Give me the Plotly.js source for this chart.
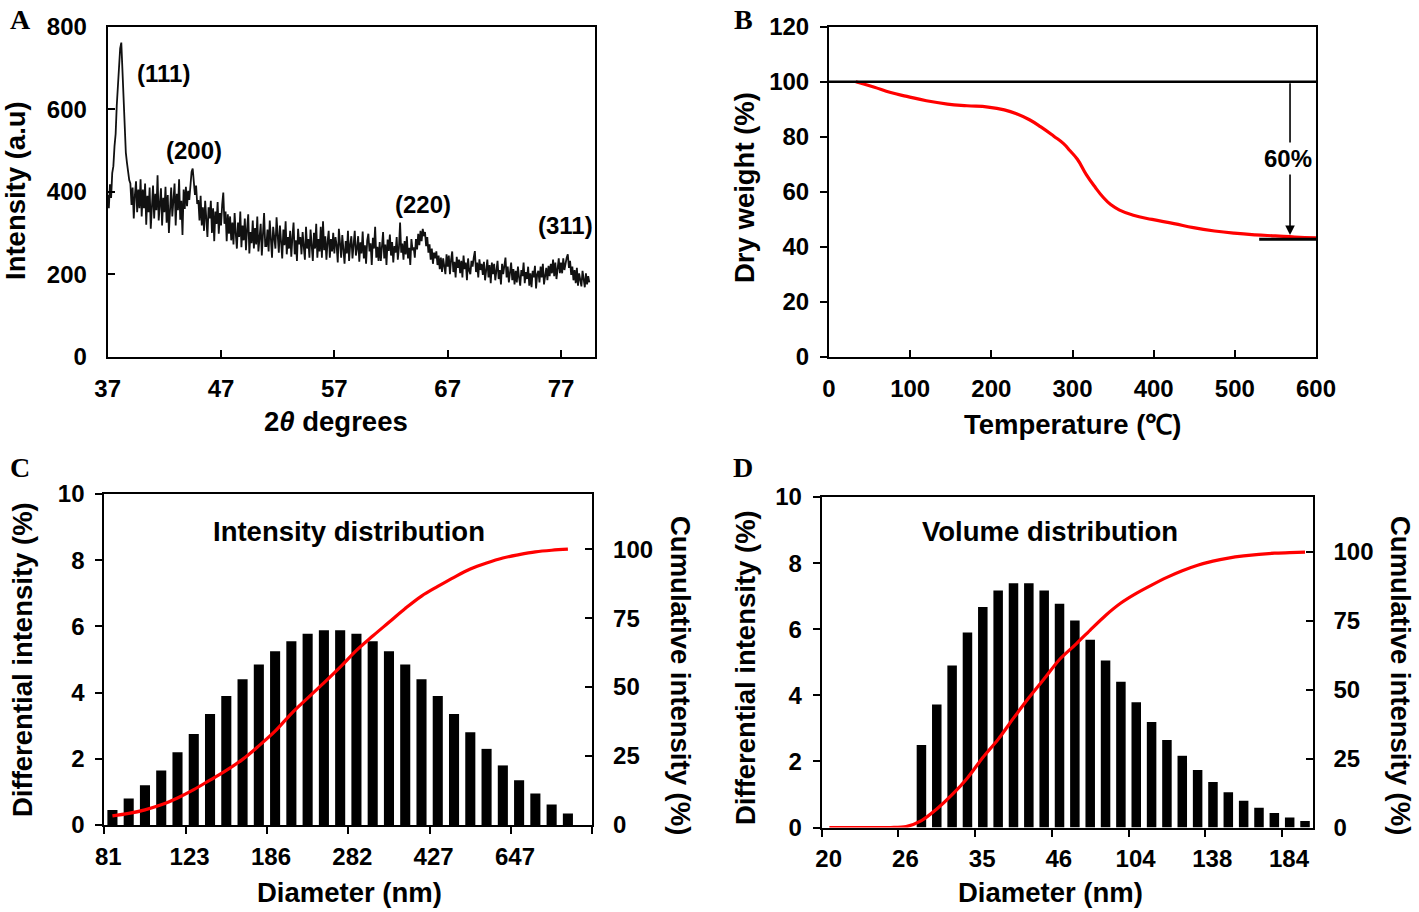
<!DOCTYPE html>
<html><head><meta charset="utf-8">
<script src="https://cdn.plot.ly/plotly-3.0.1.min.js"></script>
<style>html,body{margin:0;padding:0;background:#fff}#chart{width:1419px;height:912px}</style>
</head><body><div id="chart"></div>
<script>
// ---------- Panel A: XRD pattern ----------
const xrdStart = 37.0;
const xrdStep = 0.1;
const xrdIntensity = [
392,360,418,385,445,462,510,540,610,668,
705,748,762,690,600,545,495,470,440,428,
420,368,410,335,392,425,350,405,360,430,
340,405,360,420,320,390,350,410,310,378,
415,335,395,355,440,330,370,408,318,385,
350,412,325,392,300,382,410,340,372,420,
318,395,355,430,332,378,295,405,358,412,
365,402,380,425,448,456,420,392,415,370,
380,330,390,318,362,305,378,335,290,362,
335,378,300,360,280,352,322,375,298,348,
318,368,398,322,352,280,345,298,340,282,
325,272,348,298,262,325,290,352,265,318,
282,335,258,310,345,250,302,275,330,262,
312,272,340,255,300,322,245,288,348,268,
268,308,255,330,285,240,315,292,262,338,
298,252,318,278,238,308,270,328,248,290,
262,305,242,290,325,248,282,232,310,272,
290,248,302,268,235,315,262,285,240,308,
268,232,300,262,322,240,285,255,315,240,
328,258,292,235,278,305,240,285,255,300,
250,290,270,228,310,262,240,295,268,225,
280,250,305,232,272,292,238,268,305,245,
262,292,230,277,250,303,238,270,225,282,
298,255,275,222,288,262,315,240,266,232,
278,232,262,302,238,272,222,284,256,296,
245,278,228,268,252,290,235,264,325,252,
274,235,280,248,292,238,264,222,285,258,
265,240,285,260,298,270,305,280,310,292,
302,268,290,252,272,235,262,225,252,238,
255,222,245,212,240,205,238,220,200,248,
218,245,200,235,255,205,230,192,242,215,
235,202,232,192,245,212,228,185,238,208,
200,232,218,240,256,205,228,192,236,210,
225,198,230,185,215,235,192,222,178,228,
200,225,185,215,232,188,210,175,225,200,
215,240,192,218,180,206,228,185,212,175,
208,180,218,192,172,210,195,228,178,205,
188,218,172,202,168,208,192,220,165,200,
208,180,218,192,225,175,202,215,185,220,
195,225,202,235,195,228,188,218,238,202,
228,202,238,210,230,240,248,215,232,198,
218,185,210,178,215,172,202,185,170,208,
190,168,202,175,195,180
];
const xrdTicks = [37, 47, 57, 67, 77];
const peakLabels = ['(111)', '(200)', '(220)', '(311)'];
const peakLabelX = [41.9, 44.6, 64.8, 77.4];
const peakLabelY = [686, 501, 370, 317];

// ---------- Panel B: TGA ----------
const tgaTemp = [33,55,76,96,120,146,170,196,216,231,247,261,277,289,297,306,317,328,338,347,358,375,398,425,449,475,499,525,550,574,600];
const tgaWeight = [100,98.1,96.1,94.7,93.1,91.9,91.3,90.8,89.8,88.4,86.2,83.6,80.2,77.5,74.9,71.8,66.2,61.6,57.9,55.3,53.3,51.4,49.9,48.4,46.9,45.7,44.9,44.3,43.9,43.5,43.2];
const tgaInitial = 100;
const tgaResidue = 42.7;
const tgaLossText = '60%';

// ---------- Panel C: Intensity distribution ----------
const intBins = [0,1,2,3,4,5,6,7,8,9,10,11,12,13,14,15,16,17,18,19,20,21,22,23,24,25,26,27,28];
const intDiff = [0.45,0.8,1.2,1.65,2.2,2.75,3.35,3.9,4.4,4.85,5.25,5.55,5.78,5.88,5.88,5.78,5.55,5.25,4.85,4.4,3.9,3.35,2.8,2.3,1.8,1.35,0.95,0.62,0.35];
const intCum = [3.3,4.2,5.5,7.3,9.8,12.8,16.3,19.8,23.8,28.7,34,40.4,46,51.5,57.2,63.3,68.5,73.5,78.5,83,86.5,89.8,92.8,95,96.8,98,99,99.6,100];
const intTickLabels = ['81','123','186','282','427','647',''];

// ---------- Panel D: Volume distribution ----------
const volBins = [6,7,8,9,10,11,12,13,14,15,16,17,18,19,20,21,22,23,24,25,26,27,28,29,30,31];
const volDiff = [2.5,3.72,4.9,5.9,6.67,7.17,7.39,7.39,7.17,6.77,6.26,5.68,5.05,4.41,3.79,3.19,2.65,2.17,1.74,1.38,1.07,0.81,0.6,0.44,0.3,0.2];
const volCumBins = [0,1,2,3,4,5,6,7,8,9,10,11,12,13,14,15,16,17,18,19,20,21,22,23,24,25,26,27,28,29,30,31];
const volCum = [0,0,0,0,0,0.3,2.5,6.7,11.9,18,25.4,32,39.7,47.1,54,61,66.2,71.7,77,81.5,85,88,90.8,93.2,95.2,96.7,97.8,98.6,99.2,99.6,99.8,100];
const volTickLabels = ['20','26','35','46','104','138','184'];

// ---------- helpers ----------
const W = 1419, H = 912;
const px = v => v / W;
const py = v => 1 - v / H;
const FONT = 'Arial, "Liberation Sans", sans-serif';
const tickFont = {family: FONT, size: 24, color: '#000', weight: 700};
const base = {showline: true, linecolor: '#000', linewidth: 2, showgrid: false, zeroline: false,
  tickcolor: '#000', tickwidth: 2, ticklen: 7, tickfont: tickFont, fixedrange: true};
const binTicks = labels => labels.map((_, i) => i * 5 - 0.5);

const traces = [
  {x0: xrdStart, dx: xrdStep, y: xrdIntensity, type: 'scatter', mode: 'lines',
   line: {color: '#111', width: 1.8}, xaxis: 'x', yaxis: 'y'},
  {x: tgaTemp, y: tgaWeight, type: 'scatter', mode: 'lines',
   line: {color: '#ff0000', width: 3.2, shape: 'spline', smoothing: 1.3}, xaxis: 'x2', yaxis: 'y2'},
  {x: intBins, y: intDiff, type: 'bar', marker: {color: '#000'}, xaxis: 'x3', yaxis: 'y3'},
  {x: intBins, y: intCum, type: 'scatter', mode: 'lines',
   line: {color: '#ff0000', width: 3.2, shape: 'spline', smoothing: 1}, xaxis: 'x3', yaxis: 'y4'},
  {x: volBins, y: volDiff, type: 'bar', marker: {color: '#000'}, xaxis: 'x4', yaxis: 'y5'},
  {x: volCumBins, y: volCum, type: 'scatter', mode: 'lines',
   line: {color: '#ff0000', width: 3.2, shape: 'spline', smoothing: 0.8}, xaxis: 'x4', yaxis: 'y6'}
];

const A = {x: [107.7, 595], y: [26.9, 356.5]};
const B = {x: [829, 1316], y: [26.9, 356.5]};
const C = {x: [104.3, 592.3], y: [494, 825]};
const D = {x: [821.7, 1312.7], y: [497, 827.5]};
const dom = r => [px(r[0]), px(r[1])];
const domY = r => [py(r[1]), py(r[0])];

const layout = {
  width: W, height: H, margin: {l: 0, r: 0, t: 0, b: 0},
  paper_bgcolor: '#fff', plot_bgcolor: '#fff', showlegend: false, bargap: 0.38,
  font: {family: FONT, color: '#000'},
  xaxis: Object.assign({}, base, {domain: dom(A.x), range: [37, 80], tickvals: xrdTicks,
    ticks: 'inside', mirror: true, anchor: 'y', ticklabelstandoff: 10}),
  yaxis: Object.assign({}, base, {domain: domY(A.y), range: [0, 800], dtick: 200,
    ticks: 'inside', mirror: true, anchor: 'x', ticklabelstandoff: 14}),
  xaxis2: Object.assign({}, base, {domain: dom(B.x), range: [0, 600], dtick: 100,
    ticks: 'inside', mirror: true, anchor: 'y2', ticklabelstandoff: 10}),
  yaxis2: Object.assign({}, base, {domain: domY(B.y), range: [0, 120], dtick: 20,
    ticks: 'outside', mirror: true, anchor: 'x2', ticklabelstandoff: 6}),
  xaxis3: Object.assign({}, base, {domain: dom(C.x), range: [-0.5, 29.5], tickvals: binTicks(intTickLabels),
    ticktext: intTickLabels, ticks: 'outside', mirror: true, anchor: 'y3', ticklabelshift: 4, ticklabelstandoff: 2}),
  yaxis3: Object.assign({}, base, {domain: domY(C.y), range: [0, 10], dtick: 2,
    ticks: 'outside', anchor: 'x3', ticklabelstandoff: 6}),
  yaxis4: Object.assign({}, base, {range: [0, 120], tickvals: [0, 25, 50, 75, 100],
    ticks: 'inside', side: 'right', overlaying: 'y3', anchor: 'x3', ticklabelstandoff: 14}),
  xaxis4: Object.assign({}, base, {domain: dom(D.x), range: [-0.5, 31.5], tickvals: binTicks(volTickLabels),
    ticktext: volTickLabels, ticks: 'outside', mirror: true, anchor: 'y5', ticklabelshift: 7, ticklabelstandoff: 2}),
  yaxis5: Object.assign({}, base, {domain: domY(D.y), range: [0, 10], dtick: 2,
    ticks: 'outside', anchor: 'x4', ticklabelstandoff: 6}),
  yaxis6: Object.assign({}, base, {range: [0, 120], tickvals: [0, 25, 50, 75, 100],
    ticks: 'inside', side: 'right', overlaying: 'y5', anchor: 'x4', ticklabelstandoff: 14}),
  shapes: [
    {type: 'line', xref: 'x2', yref: 'y2', x0: 0, x1: 600, y0: tgaInitial, y1: tgaInitial,
     line: {color: '#000', width: 2.5}},
    {type: 'line', xref: 'x2', yref: 'y2', x0: 530, x1: 600, y0: tgaResidue, y1: tgaResidue,
     line: {color: '#000', width: 3}}
  ],
  annotations: []
};

const titleFont = {family: FONT, size: 27.5, color: '#000', weight: 700};
function paperText(text, x, y, opts) {
  layout.annotations.push(Object.assign({text: text, xref: 'paper', yref: 'paper', x: px(x), y: py(y),
    xanchor: 'center', yanchor: 'middle', showarrow: false, font: titleFont}, opts || {}));
}
// panel letters
const letterFont = {family: '"Liberation Serif", "Times New Roman", serif', size: 28, color: '#000', weight: 700};
paperText('A', 20, 20, {font: letterFont});
paperText('B', 743, 20, {font: letterFont});
paperText('C', 20, 467, {font: letterFont});
paperText('D', 743, 467, {font: letterFont});
// axis titles
paperText('Intensity (a.u)', 16, 191, {textangle: -90});
paperText('2<i>θ</i> degrees', 336, 421);
paperText('Dry weight (%)', 745, 188, {textangle: -90});
paperText('Temperature (℃)', 1073, 424);
paperText('Differential intensity (%)', 22, 660, {textangle: -90});
paperText('Cumulative intensity (%)', 681, 675, {textangle: 90});
paperText('Diameter (nm)', 349, 892);
paperText('Differential intensity (%)', 745, 668, {textangle: -90});
paperText('Cumulative intensity (%)', 1401, 675, {textangle: 90});
paperText('Diameter (nm)', 1050, 892);
paperText('Intensity distribution', 349, 531);
paperText('Volume distribution', 1050, 531);

// peak labels
const peakFont = {family: FONT, size: 24, color: '#000', weight: 700};
peakLabels.forEach((t, i) => layout.annotations.push({text: t, x: peakLabelX[i], y: peakLabelY[i],
  xref: 'x', yref: 'y', showarrow: false, font: peakFont}));

// TGA arrow + label
layout.annotations.push({text: '', xref: 'x2', yref: 'y2', x: 568, y: tgaResidue + 1.5,
  ax: 568, ay: tgaInitial, axref: 'x2', ayref: 'y2', showarrow: true,
  arrowhead: 2, arrowsize: 1.2, arrowwidth: 1.6, arrowcolor: '#000', standoff: 0});
layout.annotations.push({text: tgaLossText, xref: 'x2', yref: 'y2', x: 566, y: 72,
  showarrow: false, bgcolor: '#fff', font: {family: FONT, size: 24, color: '#000', weight: 700}, borderpad: 2});

Plotly.newPlot('chart', traces, layout, {staticPlot: true, displayModeBar: false});
</script></body></html>
